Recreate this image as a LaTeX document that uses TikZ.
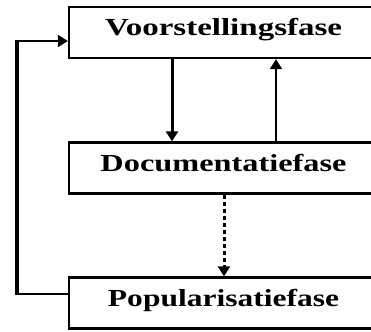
\documentclass[tikz,border=0pt]{standalone}
\usepackage{fontspec}
\setmainfont{Liberation Serif}
\usetikzlibrary{arrows.meta}
\tikzset{
  phase/.style={draw=black, line width=2.3pt, inner sep=0pt, minimum width=309pt, minimum height=51pt,
    text height=11pt, text depth=5pt, font=\bfseries\fontsize{24.5}{24.5}\selectfont},
  conn/.style={line width=2.2pt, -{Triangle[length=10pt,width=12pt]}},
}
\begin{document}
\begin{tikzpicture}[x=1pt,y=-1pt]
\useasboundingbox (0,0) rectangle (371,331);
\clip (0,0) rectangle (371,331);
\node[phase, text height=12pt, text depth=5pt] (voor) at (223.5,32.5) {\resizebox{237pt}{\height}{Voorstellingsfase}};
\node[phase] (doc) at (223.5,168) {\resizebox{246pt}{\height}{Documentatiefase}};
\node[phase] (pop) at (223.5,303) {\resizebox{231pt}{\height}{Popularisatiefase}};
\coordinate (xa) at (172,0);
\coordinate (xb) at (276,0);
\coordinate (xc) at (224,0);
\coordinate (xl) at (17,0);
\draw[conn, line width=3pt] (voor.south -| xa) -- (doc.north -| xa);
\draw[conn] (doc.north -| xb) -- (voor.south -| xb);
\draw[conn, line width=3pt, dash pattern=on 4pt off 3pt] (doc.south -| xc) -- (pop.north -| xc);
\coordinate (pl) at ([yshift=9pt]pop.west);
\coordinate (vl) at ([yshift=-8.5pt]voor.west);
\draw[line width=2.3pt] (pl) -- (pl -| xl);
\draw[line width=3.5pt] ([yshift=-1.1pt]pl -| xl) -- ([yshift=1.1pt]vl -| xl);
\draw[conn] (vl -| xl) -- (vl);
\end{tikzpicture}
\end{document}
